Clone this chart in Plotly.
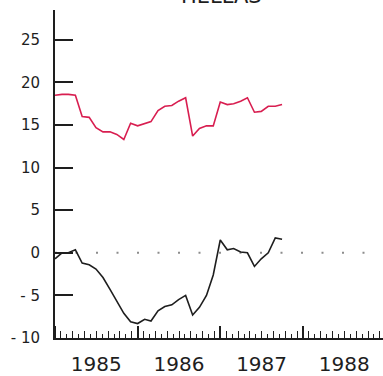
import pandas as pd
import plotly.graph_objects as go

# Monthly series, Jan 1985 - Oct 1987
start = "1985-01-01"
red_values = [18.5, 18.6, 18.6, 18.5, 16.0, 15.9, 14.7, 14.2, 14.2, 13.9, 13.3, 15.2,
              14.9, 15.2, 15.4, 16.7, 17.2, 17.3, 17.8, 18.2, 13.7, 14.6, 14.9, 14.9,
              17.7, 17.4, 17.5, 17.8, 18.2, 16.5, 16.6, 17.2, 17.2, 17.4]
black_values = [-0.7, 0.0, 0.0, 0.35, -1.2, -1.4, -1.9, -2.9, -4.3, -5.7, -7.1, -8.1,
                -8.3, -7.8, -8.0, -6.8, -6.3, -6.1, -5.5, -5.0, -7.3, -6.4, -5.0, -2.6,
                1.5, 0.35, 0.5, 0.1, 0.0, -1.6, -0.7, 0.0, 1.75, 1.6]
y_ticks = [25, 20, 15, 10, 5, 0, -5, -10]
y_tick_text = ["25", "20", "15", "10", "5", "0", "- 5", "- 10"]
title = "HELLAS"

months = pd.date_range(start, periods=len(red_values), freq="MS")

W, H = 383, 376
ml, mr, mt, mb = 55, 0, 10, 38
plot_w = W - ml - mr
t0 = pd.Timestamp(start)
year = pd.Timedelta(days=365.25)
x_range = [t0, t0 + year * (47.6 / 12)]
y_range = [-10, 28.5]

# sub-year tick spacing (14 divisions per year, every other one longer)
step = year / 14
step_ms = step.total_seconds() * 1000

ink = "#1e1e1e"
font = "DejaVu Sans"

fig = go.Figure()
fig.add_trace(go.Scatter(x=months, y=red_values, mode="lines",
                         line=dict(color="#d81e50", width=1.6), showlegend=False))
fig.add_trace(go.Scatter(x=months, y=black_values, mode="lines",
                         line=dict(color=ink, width=1.6), showlegend=False))

# dotted zero reference
fig.add_shape(type="line", x0=x_range[0], x1=x_range[1], y0=0, y1=0,
              xref="x", yref="y", layer="below",
              line=dict(color="#8c8c8c", width=2, dash="2px,18.5px"))

fig.add_annotation(text=title, xref="paper", yref="paper",
                   x=(221 - ml) / plot_w, y=1.0, xanchor="center", yanchor="bottom",
                   showarrow=False, font=dict(family=font, size=21, color=ink))

fig.update_layout(
    width=W, height=H,
    margin=dict(l=ml, r=mr, t=mt, b=mb, pad=0, autoexpand=False),
    paper_bgcolor="white", plot_bgcolor="white",
    font=dict(family=font, color=ink),
    xaxis=dict(type="date", range=x_range, showgrid=False, zeroline=False,
               automargin=False,
               showline=True, linecolor=ink, linewidth=2,
               tick0=start, dtick="M12", tickformat="%Y", ticklabelmode="period",
               ticks="inside", ticklen=12, tickwidth=2, tickcolor=ink,
               ticklabelstandoff=7,
               tickfont=dict(family=font, size=20, color=ink),
               minor=dict(tick0=start, dtick=step_ms, ticks="inside",
                          ticklen=4.5, tickwidth=1.3, tickcolor=ink,
                          showgrid=False)),
    xaxis2=dict(type="date", range=x_range, overlaying="x", anchor="y",
                side="bottom", showgrid=False, zeroline=False, showline=False,
                automargin=False,
                tick0=t0 + step, dtick=2 * step_ms,
                ticks="inside", ticklen=7, tickwidth=1.3, tickcolor=ink,
                showticklabels=False),
    yaxis=dict(range=y_range, showgrid=False, zeroline=False, automargin=False,
               showline=True, linecolor=ink, linewidth=2,
               tickmode="array", tickvals=y_ticks, ticktext=y_tick_text,
               ticks="inside", ticklen=18, tickwidth=2, tickcolor=ink,
               ticklabelstandoff=10,
               tickfont=dict(family=font, size=15, color=ink)),
)
# empty trace so the overlay axis is rendered
fig.add_trace(go.Scatter(x=[None], y=[None], xaxis="x2", showlegend=False))

fig.write_html("out.html")
